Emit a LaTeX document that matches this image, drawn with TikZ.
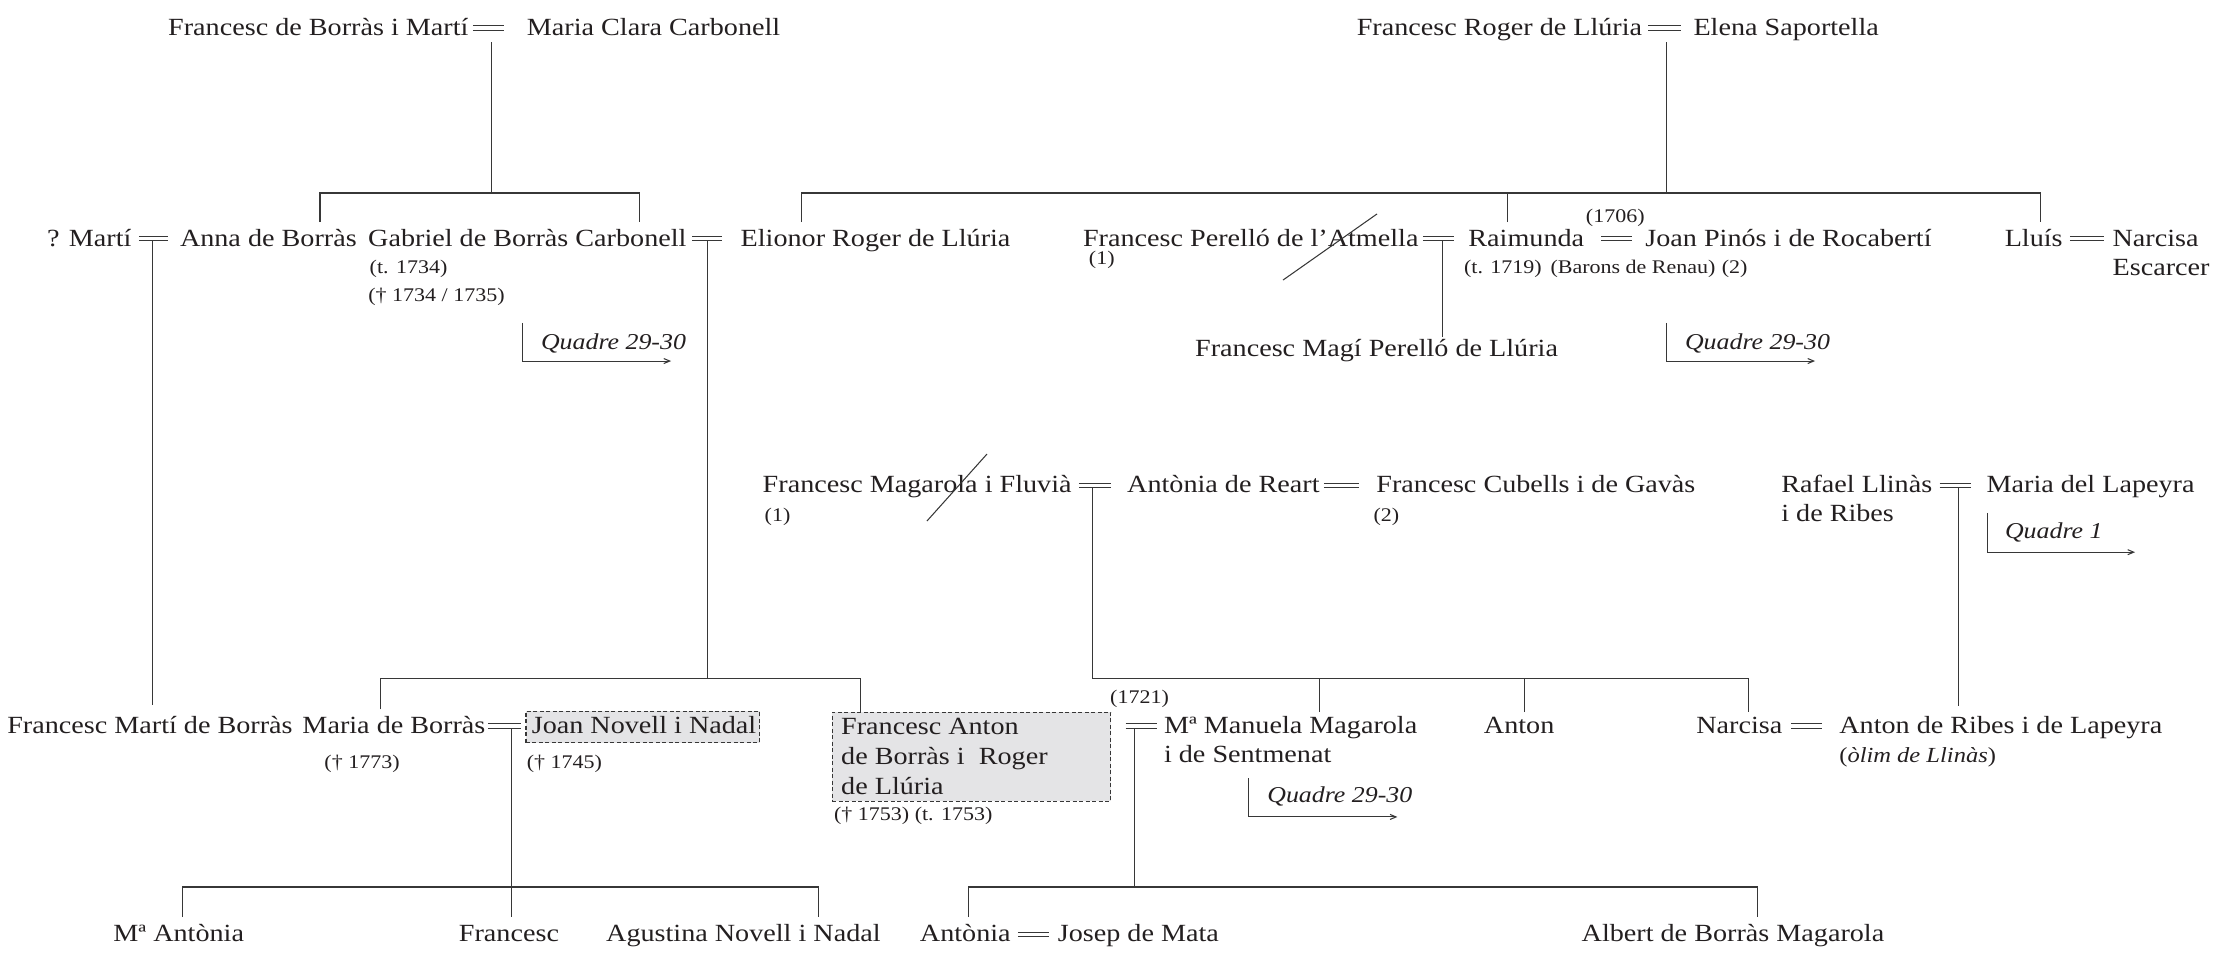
\documentclass[tikz,border=0pt]{standalone}
\usepackage{fontspec}
\setmainfont{Liberation Serif}[FakeStretch=1.14]
\usetikzlibrary{arrows.meta,fit}
\definecolor{ink}{RGB}{35,31,32}
\definecolor{lnc}{RGB}{55,55,55}
\definecolor{boxfill}{RGB}{228,228,230}
\tikzset{
  person/.style={inner sep=0pt, text=ink, font=\fontsize{24.7}{29}\selectfont},
  pl/.style={person, anchor=base west},
  pr/.style={person, anchor=base east},
  pc/.style={person, anchor=base},
  note/.style={inner sep=0pt, text=ink, font=\fontsize{19.3}{22}\selectfont, anchor=base west},
  quad/.style={inner sep=0pt, text=ink, font=\fontsize{22.7}{26}\selectfont\itshape, anchor=base west},
  ln/.style={draw=lnc, line width=1.05pt},
  eqln/.style={draw=lnc, line width=1pt},
  arr/.style={ln, -{Straight Barb[length=6pt,width=5pt]}},
  hlbox/.style={draw=lnc, line width=1.05pt, dash pattern=on 4pt off 2.5pt, fill=boxfill, inner sep=0pt},
}
% marriage sign: name, x1, x2, x of descent, baseline
\newcommand\marr[5]{%
  \draw[eqln] (#2,#5-6.7) -- (#3,#5-6.7) (#2,#5-3.8) -- (#3,#5-3.8);
  \coordinate (#1) at (#4,#5-3.8);}
\begin{document}
\begin{tikzpicture}[x=1.41582pt,y=-1.41582pt]
\useasboundingbox (0,0) rectangle (1568,679.46);

% ---------------- row 1
\node[pr] (fbm) at (331,25) {Francesc de Borràs i Martí};
\node[pl] (mcc) at (372,25) {Maria Clara Carbonell};
\marr{m1}{334}{356}{347}{25}
\coordinate (p1) at (347,30);
\node[pr] (frl) at (1160,25) {Francesc Roger de Llúria};
\node[pl] (esap) at (1196,25) {Elena Saportella};
\marr{m2}{1164}{1187}{1177}{25}
\coordinate (p2) at (1177,30);

% ---------------- row 2
\node[pr] (mar) at (93,174) {? Martí};
\marr{mA}{98}{119}{107.5}{174}
\node[pl] (anna) at (127,174) {Anna de Borràs};
\node[pr] (gab) at (485,174) {Gabriel de Borràs Carbonell};
\marr{mG}{489}{510}{500}{174}
\node[pl] (eli) at (523,174) {Elionor Roger de Llúria};
\node[note] (gabt) at (261,193) {(t. 1734)};
\node[note] (gabd) at (260,213) {(† 1734 / 1735)};
\node[quad] (q1) at (382,246.5) {Quadre 29-30};
\coordinate (q1a) at (369,228);
\coordinate (q1b) at (474,255);

\node[pr] (fpa) at (1002,174) {Francesc Perelló de l’Atmella};
\node[note] (fpa1) at (769,187) {(1)};
\marr{mP}{1005}{1027}{1018.5}{174}
\node[pl] (raim) at (1037,174) {Raimunda};
\node[note] (y1706) at (1120,157) {(1706)};
\marr{mJ}{1131}{1153}{1142}{174}
\node[pl] (jpr) at (1162,174) {Joan Pinós i de Rocabertí};
\node[note] (raimt) at (1034,193) {(t. 1719)};
\node[note] (bar) at (1095,193) {(Barons de Renau)};
\node[note] (jpr2) at (1216,193) {(2)};
\node[pr] (lluis) at (1457,174) {Lluís};
\marr{mL}{1462}{1486}{1474}{174}
\node[pl] (narc1) at (1492,174) {Narcisa};
\node[pl] (narc2) at (1492,194.5) {Escarcer};
\node[pl] (fmp) at (844,252) {Francesc Magí Perelló de Llúria};
\node[quad] (q2) at (1190,246.5) {Quadre 29-30};
\coordinate (q2a) at (1177,228);
\coordinate (q2b) at (1282,255);

% ---------------- row 3
\node[pr] (fmf) at (757,348) {Francesc Magarola i Fluvià};
\node[note] (fmf1) at (540,368) {(1)};
\marr{mM}{762}{785}{771.5}{348}
\node[pl] (ar) at (796,348) {Antònia de Reart};
\marr{mC}{935}{960}{947}{348}
\node[pl] (fcg) at (972,348) {Francesc Cubells i de Gavàs};
\node[note] (fcg2) at (970,368) {(2)};
\node[pl] (rl1) at (1258,348) {Rafael Llinàs};
\node[pl] (rl2) at (1258,368.5) {i de Ribes};
\marr{mR}{1370}{1392}{1383}{348}
\node[pl] (mdl) at (1403,348) {Maria del Lapeyra};
\node[quad] (q3) at (1416,380.5) {Quadre 1};
\coordinate (q3a) at (1404,362.3);
\coordinate (q3b) at (1508,390);

% ---------------- row 4
\node[pl] (fmb) at (5,518) {Francesc Martí de Borràs};
\node[pr] (mdb) at (343,518) {Maria de Borràs};
\marr{mN}{345}{368}{361}{518}
\node[hlbox, fit={(371.5,502.2) (536.5,524.6)}] (jnbox) {};
\node[pl] (jnn) at (375.5,518) {Joan Novell i Nadal};
\node[note] (mdbd) at (229,543) {(† 1773)};
\node[note] (jnnd) at (372,543) {(† 1745)};
\node[hlbox, fit={(587.8,502.9) (784.6,565.8)}] (fabox) {};
\node[pl] (fa1) at (594,519) {Francesc Anton};
\node[pl] (fa2) at (594,540) {de Borràs i\ \ Roger};
\node[pl] (fa3) at (594,561) {de Llúria};
\node[note] (fad) at (589,579.5) {(† 1753) (t. 1753)};
\node[note] (y1721) at (784,497) {(1721)};
\marr{mF}{795}{817}{801.5}{518}
\node[pl] (mmm1) at (822,518) {Mª Manuela Magarola};
\node[pl] (mmm2) at (822,538.5) {i de Sentmenat};
\node[quad] (q4) at (895,567) {Quadre 29-30};
\coordinate (q4a) at (882,549.5);
\coordinate (q4b) at (987,577);
\node[pc] (anton) at (1073,518) {Anton};
\node[pr] (narc) at (1259,518) {Narcisa};
\marr{mRi}{1265}{1287}{1276}{518}
\node[pl] (arl) at (1299,518) {Anton de Ribes i de Lapeyra};
\node[pl, font=\fontsize{21.5}{25}\selectfont] (olim) at (1299,538.5) {(\textit{òlim de Llinàs})};

% ---------------- row 5
\node[pl] (mant) at (80,665) {Mª Antònia};
\node[pl] (fr) at (324,665) {Francesc};
\node[pl] (ag) at (428,665) {Agustina Novell i Nadal};
\node[pr] (anto) at (714,665) {Antònia};
\marr{mT}{719}{741}{730}{665}
\node[pl] (jm) at (747,665) {Josep de Mata};
\node[pl] (abm) at (1117,665) {Albert de Borràs Magarola};

% ---------------- strike-outs (previous marriages)
\draw[ln] (906.2,197.8) -- (972.6,151.1);
\draw[ln] (654.7,368) -- (697.1,320.7);

% ---------------- descent lines
\coordinate (b1) at (347,136.3);
\coordinate (dAnna) at (226,156.8);
\coordinate (dGab) at (452,156.8);
\draw[ln] (p1) -- (b1);
\draw[ln] (dAnna) |- (b1) -| (dGab);
\coordinate (b2) at (1177,136.3);
\coordinate (dEli) at (566,156.8);
\coordinate (dRaim) at (1065,156.8);
\coordinate (dLluis) at (1441,156.8);
\draw[ln] (p2) -- (b2);
\draw[ln] (dEli) |- (b2) -| (dLluis);
\draw[ln] (dRaim) -- (dRaim |- b2);
\coordinate (dFM) at (107.5,498);
\draw[ln] (mA) -- (dFM);
\coordinate (dMagi) at (1018.5,238);
\draw[ln] (mP) -- (dMagi);
\coordinate (b3) at (500,478.9);
\coordinate (dMaria) at (269,501);
\coordinate (dFA) at (608,502.9);
\draw[ln] (mG) -- (b3);
\draw[ln] (dMaria) |- (b3) -| (dFA);
\coordinate (b4) at (771.5,478.9);
\coordinate (dMan) at (932,502.9);
\coordinate (dAnton) at (1077,502.9);
\coordinate (dNarc) at (1235,502.9);
\draw[ln] (mM) -- (b4) -| (dNarc);
\draw[ln] (dMan) -- (dMan |- b4);
\draw[ln] (dAnton) -- (dAnton |- b4);
\coordinate (dRib) at (1383,498.6);
\draw[ln] (mR) -- (dRib);
\coordinate (b5) at (361,626.5);
\coordinate (dFr) at (361,647.7);
\coordinate (dMA) at (129,647.7);
\coordinate (dAg) at (578,647.7);
\draw[ln] (mN) -- (dFr);
\draw[ln] (dMA) |- (b5) -| (dAg);
\coordinate (b6) at (801.5,626.5);
\coordinate (dAnt) at (684,647.7);
\coordinate (dAlb) at (1241,647.7);
\draw[ln] (mF) -- (b6);
\draw[ln] (dAnt) |- (b6) -| (dAlb);

% ---------------- cross references
\draw[arr] (q1a) |- (q1b);
\draw[arr] (q2a) |- (q2b);
\draw[arr] (q3a) |- (q3b);
\draw[arr] (q4a) |- (q4b);
\end{tikzpicture}
\end{document}
